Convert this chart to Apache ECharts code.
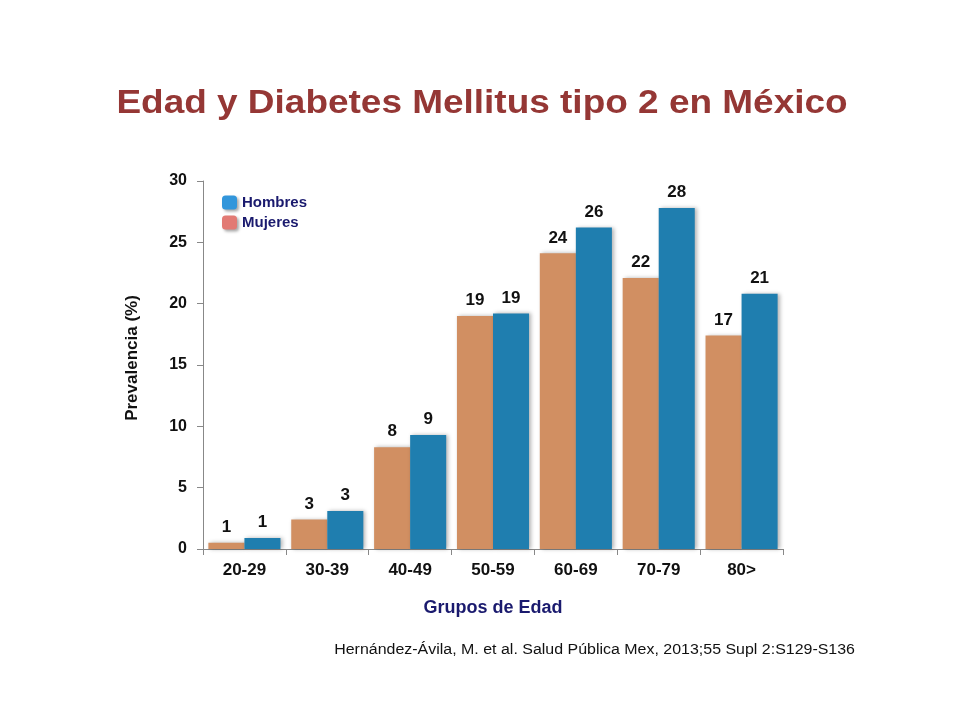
<!DOCTYPE html>
<html>
<head>
<meta charset="utf-8">
<script src="https://cdn.jsdelivr.net/npm/echarts@6/dist/echarts.min.js"></script>
<style>
  html, body { margin: 0; padding: 0; background: #fff; }
  #main { width: 960px; height: 720px; }
</style>
</head>
<body>
<div id="main"></div>
<script>
// grupos de edad
const grupos = ["20-29", "30-39", "40-49", "50-59", "60-69", "70-79", "80>"];
// prevalencia (%)
const mujeres = [0.5, 2.4, 8.3, 19.0, 24.1, 22.1, 17.4];
const hombres = [0.9, 3.1, 9.3, 19.2, 26.2, 27.8, 20.8];
// etiquetas tal como aparecen sobre las barras
const etiquetasMujeres = ["1", "3", "8", "19", "24", "22", "17"];
const etiquetasHombres = ["1", "3", "9", "19", "26", "28", "21"];

const fuente = "Arial, 'Liberation Sans', sans-serif";

const chart = echarts.init(document.getElementById("main"));

function barLabel(labels) {
  return {
    show: true,
    position: "top",
    distance: 7,
    fontFamily: fuente,
    fontWeight: "bold",
    fontSize: 17,
    color: "#111",
    formatter: function (p) {
      return labels[p.dataIndex];
    },
  };
}

const sombraLeyenda = {
  shadowColor: "rgba(0,0,0,0.35)",
  shadowBlur: 3,
  shadowOffsetX: 2,
  shadowOffsetY: 2,
};

const option = {
  backgroundColor: "#fff",
  animation: false,
  legend: {
    orient: "vertical",
    left: 217,
    top: 190,
    itemWidth: 15,
    itemHeight: 14,
    itemGap: 5,
    data: [
      { name: "Hombres", itemStyle: Object.assign({ color: "#3296DB" }, sombraLeyenda) },
      { name: "Mujeres", itemStyle: Object.assign({ color: "#E27A74" }, sombraLeyenda) },
    ],
    textStyle: {
      fontFamily: fuente,
      fontSize: 15,
      fontWeight: "bold",
      color: "#1A1A6E",
    },
  },
  grid: {
    left: 203,
    right: 177,
    top: 181,
    bottom: 171,
  },
  xAxis: {
    type: "category",
    data: grupos,
    name: "Grupos de Edad",
    nameLocation: "middle",
    nameGap: 50,
    nameTextStyle: {
      fontFamily: fuente,
      fontSize: 18,
      fontWeight: "bold",
      color: "#1A1A6E",
    },
    axisLine: { lineStyle: { color: "#888", width: 1 } },
    axisTick: { show: true, length: 6, lineStyle: { color: "#888" } },
    axisLabel: {
      margin: 13,
      fontFamily: fuente,
      fontSize: 17,
      fontWeight: "bold",
      color: "#111",
    },
  },
  yAxis: {
    type: "value",
    min: 0,
    max: 30,
    interval: 5,
    name: "Prevalencia (%)",
    nameLocation: "middle",
    nameGap: 62,
    nameTextStyle: {
      fontFamily: fuente,
      fontSize: 17,
      fontWeight: "bold",
      color: "#111",
      padding: [0, 0, 0, 14],
    },
    axisLine: { show: true, lineStyle: { color: "#888", width: 1 } },
    axisTick: { show: true, length: 6, lineStyle: { color: "#888" } },
    splitLine: { show: false },
    axisLabel: {
      margin: 16,
      fontFamily: fuente,
      fontSize: 16,
      fontWeight: "bold",
      color: "#111",
    },
  },
  series: [
    {
      name: "Mujeres",
      type: "bar",
      data: mujeres,
      barGap: "0%",
      barCategoryGap: "13%",
      itemStyle: {
        color: "#D18F62",
        shadowColor: "rgba(0,0,0,0.3)",
        shadowBlur: 4,
        shadowOffsetX: 2,
        shadowOffsetY: 0,
      },
      label: barLabel(etiquetasMujeres),
    },
    {
      name: "Hombres",
      type: "bar",
      data: hombres,
      itemStyle: {
        color: "#1F7EAF",
        shadowColor: "rgba(0,0,0,0.3)",
        shadowBlur: 4,
        shadowOffsetX: 2,
        shadowOffsetY: 0,
      },
      label: barLabel(etiquetasHombres),
    },
  ],
  graphic: [
    {
      type: "text",
      x: 482,
      y: 104,
      scaleX: 1.12,
      style: {
        text: "Edad y Diabetes Mellitus tipo 2 en México",
        fontFamily: fuente,
        fontSize: 33,
        fontWeight: "bold",
        fill: "#953735",
        textAlign: "center",
        textVerticalAlign: "middle",
      },
    },
    {
      type: "text",
      x: 855,
      y: 650,
      scaleX: 1.14,
      style: {
        text: "Hernández-Ávila, M. et al. Salud Pública Mex, 2013;55 Supl 2:S129-S136",
        fontFamily: fuente,
        fontSize: 14,
        fill: "#111",
        textAlign: "right",
        textVerticalAlign: "middle",
      },
    },
  ],
};

chart.setOption(option);
</script>
</body>
</html>
